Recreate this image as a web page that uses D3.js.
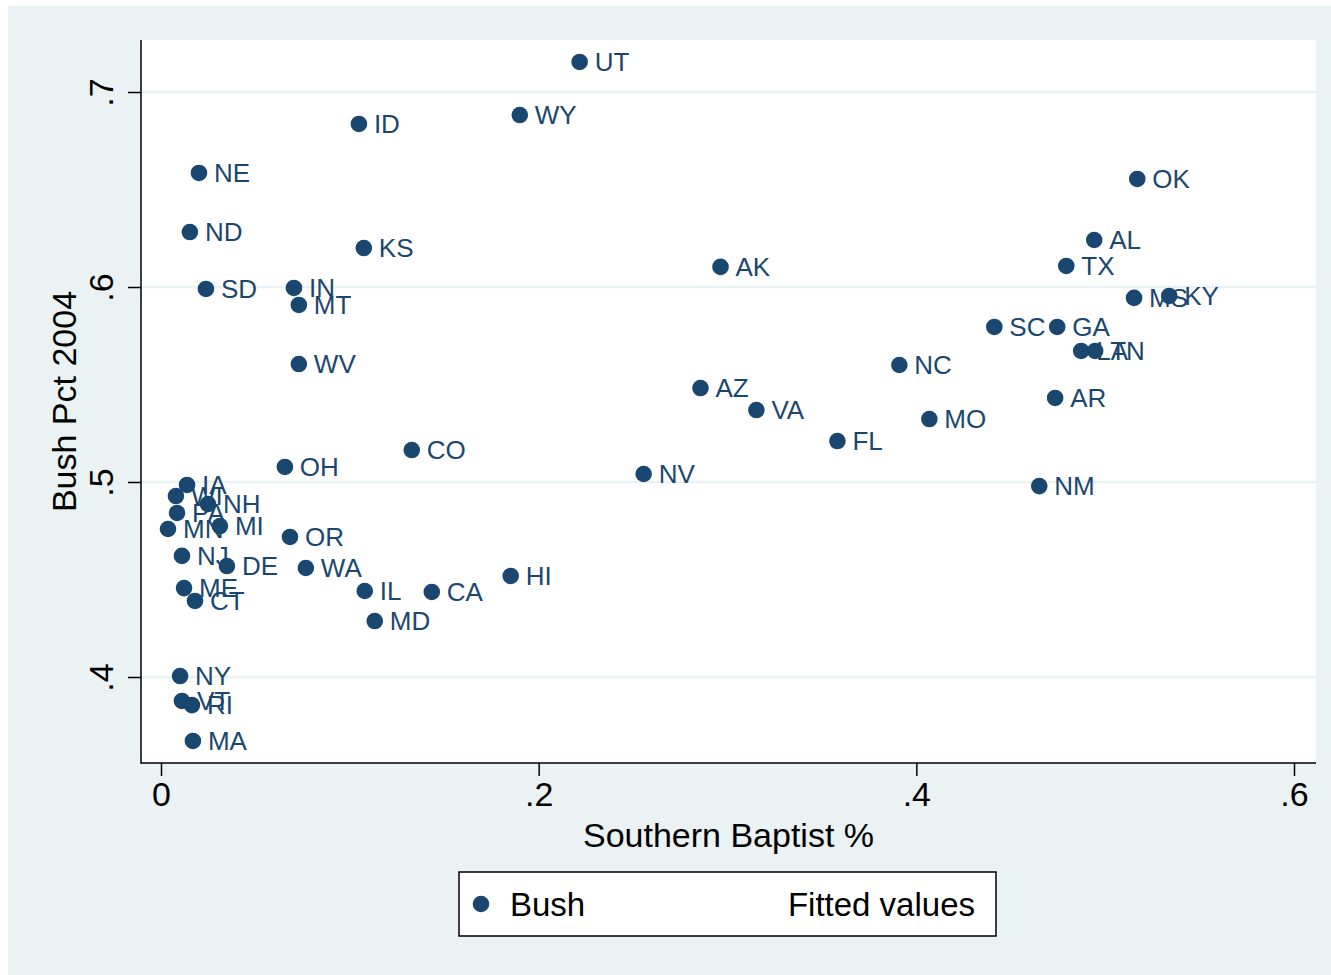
<!DOCTYPE html>
<html>
<head>
<meta charset="utf-8">
<script src="https://cdn.jsdelivr.net/npm/d3@7"></script>
<style>
  body { margin: 0; background: #fff; }
  text { font-family: "Liberation Sans", Arial, sans-serif; }
</style>
</head>
<body>
<script>
// state labels, Southern Baptist share, Bush vote share 2004
var states = ["UT","WY","ID","NE","OK","ND","KS","AL","AK","TX",
              "SD","IN","MT","MS","KY","SC","GA","LA","TN","WV",
              "NC","AZ","VA","MO","FL","CO","AR","OH","NV","NM",
              "IA","WI","NH","PA","MI","MN","OR","NJ","DE","WA",
              "ME","CT","IL","CA","HI","MD","NY","VT","RI","MA"];
var southernBaptist = [0.2217,0.190,0.1048,0.0201,0.517,0.0153,0.1074,0.4942,0.2963,0.4794,
                       0.0238,0.0704,0.073,0.5153,0.5339,0.4413,0.4746,0.4873,0.4947,0.073,
                       0.391,0.2857,0.3153,0.4069,0.3582,0.1328,0.4735,0.0656,0.2556,0.4651,
                       0.0138,0.0079,0.0249,0.0085,0.0312,0.0037,0.0683,0.0111,0.0349,0.0767,
                       0.0122,0.018,0.1079,0.1434,0.1852,0.1132,0.0101,0.0111,0.0164,0.0169];
var bushPct = [0.7154,0.6882,0.6836,0.6585,0.6554,0.6282,0.620,0.6241,0.6103,0.6108,
               0.599,0.5995,0.5908,0.5944,0.5954,0.5795,0.5795,0.5672,0.5672,0.5605,
               0.560,0.5482,0.5369,0.5323,0.521,0.5164,0.5431,0.5077,0.5041,0.4979,
               0.4985,0.4928,0.4887,0.4841,0.4774,0.4759,0.4718,0.4621,0.4569,0.4559,
               0.4456,0.439,0.4441,0.4436,0.4518,0.4287,0.4005,0.3877,0.3856,0.3672];

var xTicks = [0, 0.2, 0.4, 0.6];
var yTicks = [0.4, 0.5, 0.6, 0.7];
var legendLabels = ["Bush", "Fitted values"];

var width = 1331, height = 975;
var navy = "#1a476f", bg = "#eaf2f3";

// plot region
var plot = { left: 141, right: 1316, top: 40, bottom: 763 };

var svg = d3.select("body").append("svg")
  .attr("width", width)
  .attr("height", height);

svg.append("rect")
  .attr("x", 8).attr("y", 6)
  .attr("width", width - 8).attr("height", height - 6)
  .attr("fill", bg);

svg.append("rect")
  .attr("x", plot.left).attr("y", plot.top)
  .attr("width", plot.right - plot.left).attr("height", plot.bottom - plot.top)
  .attr("fill", "#fff");

var x = d3.scaleLinear().domain([0, 0.6]).range([161, 1294]);
var y = d3.scaleLinear().domain([0.4, 0.7]).range([677, 92]);

// strip leading zero like Stata does
var fmt = function(d) { return d === 0 ? "0" : d3.format(".1f")(d).replace(/^0/, ""); };

// gridlines
svg.append("g").selectAll("line")
  .data(yTicks).enter().append("line")
  .attr("x1", plot.left).attr("x2", plot.right)
  .attr("y1", function(d) { return y(d); })
  .attr("y2", function(d) { return y(d); })
  .attr("stroke", bg).attr("stroke-width", 2.5);

// x axis
var xAxis = svg.append("g")
  .attr("transform", "translate(0," + plot.bottom + ")")
  .call(d3.axisBottom(x).tickValues(xTicks).tickFormat(fmt).tickSize(13).tickPadding(6));
xAxis.select(".domain").remove();
xAxis.selectAll("line").attr("stroke", "#000").attr("stroke-width", 1.5);
xAxis.selectAll("text").attr("font-size", 34).attr("fill", "#000")
  .attr("font-family", "Liberation Sans, Arial, sans-serif");

// y axis
var yAxis = svg.append("g")
  .attr("transform", "translate(" + plot.left + ",0)")
  .call(d3.axisLeft(y).tickValues(yTicks).tickFormat(fmt).tickSize(13));
yAxis.select(".domain").remove();
yAxis.selectAll("line").attr("stroke", "#000").attr("stroke-width", 1.5);
yAxis.selectAll("text")
  .attr("font-size", 34).attr("fill", "#000")
  .attr("font-family", "Liberation Sans, Arial, sans-serif")
  .attr("x", null).attr("dy", null)
  .attr("text-anchor", "middle")
  .attr("transform", "translate(-28,0) rotate(-90)");

// axis lines
svg.append("line")
  .attr("x1", plot.left).attr("x2", plot.left)
  .attr("y1", plot.top).attr("y2", plot.bottom + 0.75)
  .attr("stroke", "#000").attr("stroke-width", 1.5);
svg.append("line")
  .attr("x1", plot.left).attr("x2", plot.right)
  .attr("y1", plot.bottom).attr("y2", plot.bottom)
  .attr("stroke", "#000").attr("stroke-width", 1.5);

// axis titles
svg.append("text")
  .attr("x", (plot.left + plot.right) / 2).attr("y", 847)
  .attr("text-anchor", "middle").attr("font-size", 34)
  .text("Southern Baptist %");
svg.append("text")
  .attr("transform", "translate(76," + (plot.top + plot.bottom) / 2 + ") rotate(-90)")
  .attr("text-anchor", "middle").attr("font-size", 34)
  .text("Bush Pct 2004");

// points and labels
var pts = svg.append("g");
states.forEach(function(s, i) {
  var cx = x(southernBaptist[i]), cy = y(bushPct[i]);
  pts.append("circle")
    .attr("cx", cx).attr("cy", cy).attr("r", 8.3)
    .attr("fill", navy);
  pts.append("text")
    .attr("x", cx + 15).attr("y", cy + 9)
    .attr("font-size", 26).attr("fill", navy)
    .text(s);
});

// legend
var lg = svg.append("g");
lg.append("rect")
  .attr("x", 459).attr("y", 872).attr("width", 537).attr("height", 64)
  .attr("fill", "#fff").attr("stroke", "#000").attr("stroke-width", 1.5);
lg.append("circle").attr("cx", 481).attr("cy", 904).attr("r", 8.3).attr("fill", navy);
lg.append("text").attr("x", 510).attr("y", 916).attr("font-size", 33).text(legendLabels[0]);
lg.append("text").attr("x", 975).attr("y", 916).attr("font-size", 33)
  .attr("text-anchor", "end").text(legendLabels[1]);
</script>
</body>
</html>
